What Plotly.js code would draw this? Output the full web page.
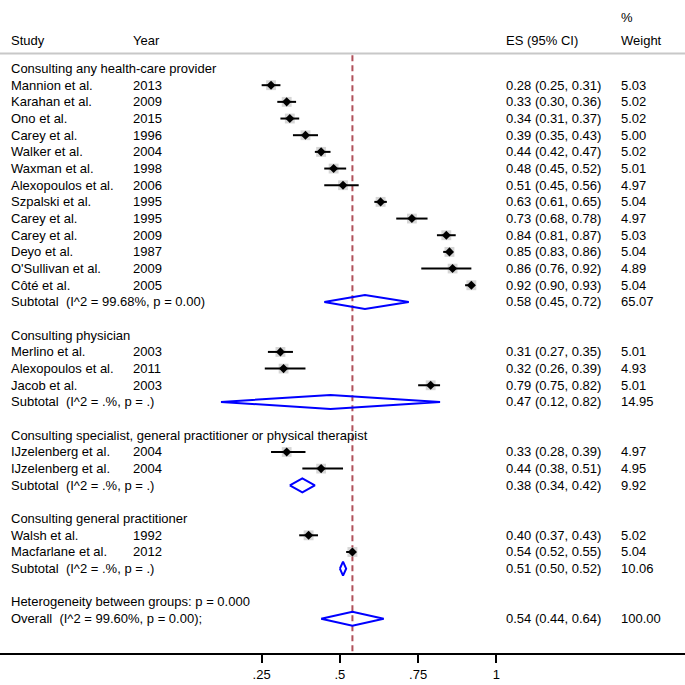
<!DOCTYPE html>
<html>
<head>
<meta charset="utf-8">
<script src="https://cdn.plot.ly/plotly-3.0.1.min.js"></script>
<style>html,body{margin:0;padding:0;background:#fff;}#chart{width:685px;height:685px;}</style>
</head>
<body>
<div id="chart"></div>
<script>
// ---------------- data ----------------
const groupNames = [
  "Consulting any health-care provider",
  "Consulting physician",
  "Consulting specialist, general practitioner or physical therapist",
  "Consulting general practitioner"
];
const studyGroup = [0,0,0,0,0,0,0,0,0,0,0,0,0, 1,1,1, 2,2, 3,3];
const studyNames = [
  "Mannion et al.","Karahan et al.","Ono et al.","Carey et al.","Walker et al.","Waxman et al.",
  "Alexopoulos et al.","Szpalski et al.","Carey et al.","Carey et al.","Deyo et al.","O'Sullivan et al.","Côté et al.",
  "Merlino et al.","Alexopoulos et al.","Jacob et al.",
  "IJzelenberg et al.","IJzelenberg et al.",
  "Walsh et al.","Macfarlane et al."
];
const studyYears = ["2013","2009","2015","1996","2004","1998","2006","1995","1995","2009","1987","2009","2005",
  "2003","2011","2003","2004","2004","1992","2012"];
const studyES = [0.28,0.33,0.34,0.39,0.44,0.48,0.51,0.63,0.73,0.84,0.85,0.86,0.92, 0.31,0.32,0.79, 0.33,0.44, 0.40,0.54];
const studyLo = [0.25,0.30,0.31,0.35,0.42,0.45,0.45,0.61,0.68,0.81,0.83,0.76,0.90, 0.27,0.26,0.75, 0.28,0.38, 0.37,0.52];
const studyHi = [0.31,0.36,0.37,0.43,0.47,0.52,0.56,0.65,0.78,0.87,0.86,0.92,0.93, 0.35,0.39,0.82, 0.39,0.51, 0.43,0.55];
const studyWt = [5.03,5.02,5.02,5.00,5.02,5.01,4.97,5.04,4.97,5.03,5.04,4.89,5.04, 5.01,4.93,5.01, 4.97,4.95, 5.02,5.04];

const subLabels = [
  "Subtotal  (I^2 = 99.68%, p = 0.00)",
  "Subtotal  (I^2 = .%, p = .)",
  "Subtotal  (I^2 = .%, p = .)",
  "Subtotal  (I^2 = .%, p = .)"
];
const subES = [0.58, 0.47, 0.38, 0.51];
const subLo = [0.45, 0.12, 0.34, 0.50];
const subHi = [0.72, 0.82, 0.42, 0.52];
const subWt = [65.07, 14.95, 9.92, 10.06];

const hetLabel = "Heterogeneity between groups: p = 0.000";
const overallLabel = "Overall  (I^2 = 99.60%, p = 0.00);";
const overallES = 0.54, overallLo = 0.44, overallHi = 0.64, overallWt = 100.00;

const headers = {study: "Study", year: "Year", es: "ES (95% CI)", pct: "%", weight: "Weight"};
const tickVals = [0.25, 0.5, 0.75, 1];
const tickText = [".25", ".5", ".75", "1"];

// ---------------- layout rows ----------------
const W = 685, H = 685;
const FONT = "'Liberation Sans', Arial, sans-serif";
const colStudy = 10, colYear = 132, colES = 505, colWt = 620;

let row = 0;
const studyRow = [], subRow = [], groupRow = [];
for (let g = 0; g < groupNames.length; g++) {
  groupRow.push(row); row++;
  for (let i = 0; i < studyNames.length; i++) {
    if (studyGroup[i] === g) { studyRow[i] = row; row++; }
  }
  subRow.push(row); row++;
  row++; // blank
}
const hetRow = row; row++;
const overallRow = row;
const axisRow = overallRow + 2.06;
const topRow = -4.11;

const fmt = v => v.toFixed(2);
const ciText = (e,l,h) => fmt(e) + " (" + fmt(l) + ", " + fmt(h) + ")";

const annotations = [];
function ann(xpx, r, text) {
  annotations.push({xref: "paper", yref: "y", x: xpx / W, y: r, text: text,
    showarrow: false, xanchor: "left", yanchor: "middle", borderpad: 0,
    font: {family: FONT, size: 13, color: "#000"}});
}
ann(colStudy, -1.7, headers.study);
ann(colYear, -1.7, headers.year);
ann(colES, -1.7, headers.es);
ann(colWt, -3.05, headers.pct);
ann(colWt, -1.7, headers.weight);
for (let g = 0; g < groupNames.length; g++) {
  ann(colStudy, groupRow[g], groupNames[g]);
  ann(colStudy, subRow[g], subLabels[g]);
  ann(colES, subRow[g], ciText(subES[g], subLo[g], subHi[g]));
  ann(colWt, subRow[g], fmt(subWt[g]));
}
for (let i = 0; i < studyNames.length; i++) {
  ann(colStudy, studyRow[i], studyNames[i]);
  ann(colYear, studyRow[i], studyYears[i]);
  ann(colES, studyRow[i], ciText(studyES[i], studyLo[i], studyHi[i]));
  ann(colWt, studyRow[i], fmt(studyWt[i]));
}
ann(colStudy, hetRow, hetLabel);
ann(colStudy, overallRow, overallLabel);
ann(colES, overallRow, ciText(overallES, overallLo, overallHi));
ann(colWt, overallRow, fmt(overallWt));

// ---------------- traces ----------------
const traces = [];
// reference dashed line at overall ES
traces.push({x: [overallES, overallES], y: [-0.8, axisRow], mode: "lines",
  line: {color: "#b0505a", width: 2, dash: "6px,4px"}, hoverinfo: "skip", showlegend: false});
// weight boxes
traces.push({x: studyES, y: studyRow, mode: "markers", hoverinfo: "skip", showlegend: false,
  marker: {symbol: "square", color: "#c4c4c4", size: studyWt.map(w => 4.4 * Math.sqrt(w)), line: {width: 0}}});
// CI lines
const cx = [], cy = [];
for (let i = 0; i < studyNames.length; i++) {
  cx.push(studyLo[i], studyHi[i], null); cy.push(studyRow[i], studyRow[i], null);
}
traces.push({x: cx, y: cy, mode: "lines", line: {color: "#000", width: 2}, hoverinfo: "skip", showlegend: false});
// point estimates
traces.push({x: studyES, y: studyRow, mode: "markers", hoverinfo: "skip", showlegend: false,
  marker: {symbol: "diamond", color: "#000", size: 7, line: {width: 0}}});
// diamonds
const HALF = 0.42;
const dx = [], dy = [];
function diamond(e, l, h, r) {
  dx.push(l, e, h, e, l, null); dy.push(r, r - HALF, r, r + HALF, r, null);
}
for (let g = 0; g < subES.length; g++) diamond(subES[g], subLo[g], subHi[g], subRow[g]);
diamond(overallES, overallLo, overallHi, overallRow);
traces.push({x: dx, y: dy, mode: "lines", line: {color: "#0000ff", width: 2}, hoverinfo: "skip", showlegend: false});

// ---------------- layout ----------------
const px0 = 183.4, pxPerUnit = 313;
const layout = {
  width: W, height: H,
  margin: {l: 0, r: 0, t: 0, b: 32, pad: 0},
  paper_bgcolor: "#fff", plot_bgcolor: "#fff",
  showlegend: false,
  font: {family: FONT, size: 13, color: "#000"},
  xaxis: {
    range: [-px0 / pxPerUnit, (W - px0) / pxPerUnit],
    tickvals: tickVals, ticktext: tickText,
    showline: true, linecolor: "#000", linewidth: 2,
    ticks: "outside", ticklen: 8, tickwidth: 2, tickcolor: "#000",
    showgrid: false, zeroline: false, fixedrange: true,
    tickfont: {family: FONT, size: 13, color: "#000"}
  },
  yaxis: {range: [axisRow, topRow], visible: false, showgrid: false, zeroline: false, fixedrange: true},
  shapes: [{type: "line", xref: "paper", yref: "y", x0: 0, x1: 1, y0: -0.9, y1: -0.9,
    line: {color: "#c8c8c8", width: 2}}],
  annotations: annotations
};
Plotly.newPlot("chart", traces, layout, {displayModeBar: false, staticPlot: true});
</script>
</body>
</html>
